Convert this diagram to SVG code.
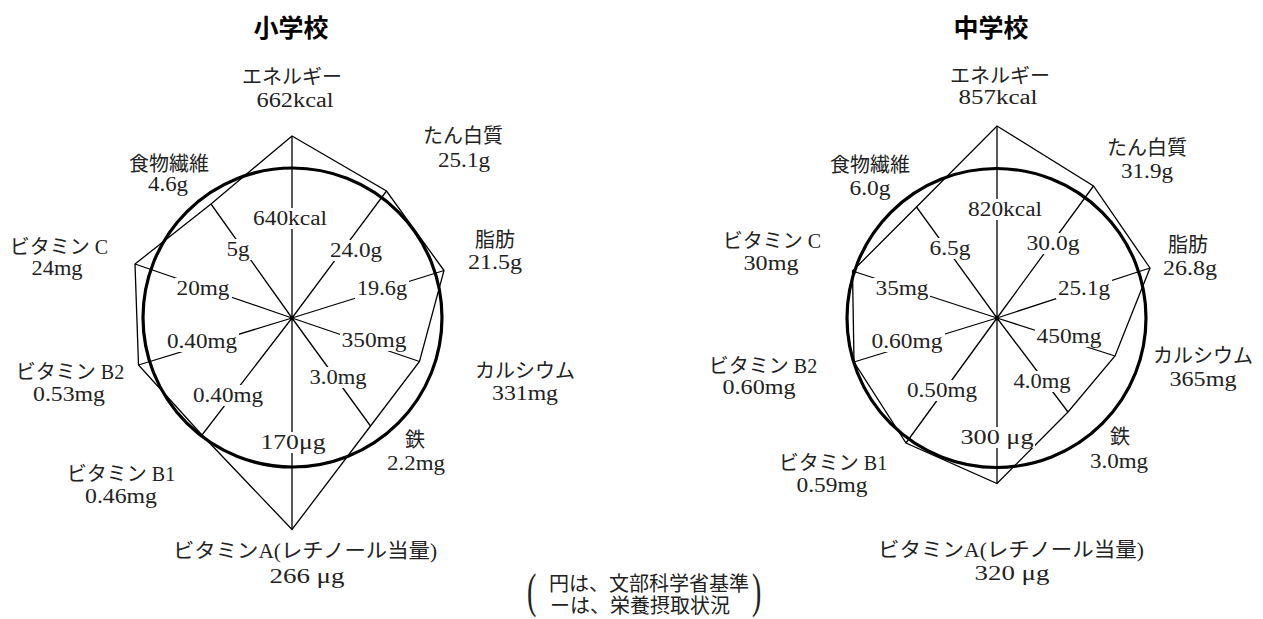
<svg xmlns="http://www.w3.org/2000/svg" width="1263" height="619" viewBox="0 0 1263 619">
<style>
  .bg{fill:#fff}
  .ln{stroke:#000;stroke-width:1.3;fill:none;stroke-linejoin:miter}
  .std{stroke:#000;stroke-width:3.2;fill:none}
  .ko{fill:#fff;stroke:none}
  text{font-family:"Liberation Serif","Noto Sans CJK JP",serif;font-size:20px;fill:#222;text-anchor:middle}
  .ttl{font-family:"Noto Sans CJK JP",sans-serif;font-size:25px;font-weight:bold;fill:#000}
  .par{font-size:28px;text-anchor:start}
  .note{text-anchor:start}
</style>
<rect class="bg" x="0" y="0" width="1263" height="619"/>

<g id="elementary">
  <text id="title-elem" class="ttl" x="291" y="37">小学校</text>
  <g id="elem-connectors">
    <path class="ln" d="M292,318L292,136M292,318L386.5,191M292,318L444,270.5M292,318L419.5,361.5M292,318L370.5,426M292,318L292,529.5M292,318L202,435M292,318L138.5,365M292,318L135,264M292,318L211,204"/>
    <polygon class="ln" points="292,136 386.5,191 444,270.5 419.5,361.5 370.5,426 292,529.5 202,435 138.5,365 135,264 211,204"/>
    <circle class="std" cx="292.5" cy="317.5" r="149.5"/>
  </g>
  <g id="elem-standard-labels">
    <rect class="ko" x="251" y="208" width="78" height="21"/><text x="290" y="225" textLength="74" lengthAdjust="spacingAndGlyphs">640kcal</text>
    <rect class="ko" x="225" y="239" width="27" height="21"/><text x="238" y="256" textLength="23" lengthAdjust="spacingAndGlyphs">5g</text>
    <rect class="ko" x="328" y="240" width="56" height="21"/><text x="356" y="257" textLength="52" lengthAdjust="spacingAndGlyphs">24.0g</text>
    <rect class="ko" x="175" y="278" width="57" height="21"/><text x="203" y="295" textLength="53" lengthAdjust="spacingAndGlyphs">20mg</text>
    <rect class="ko" x="355" y="278" width="54" height="21"/><text x="382" y="295" textLength="50" lengthAdjust="spacingAndGlyphs">19.6g</text>
    <rect class="ko" x="165" y="331" width="74" height="21"/><text x="202" y="348" textLength="70" lengthAdjust="spacingAndGlyphs">0.40mg</text>
    <rect class="ko" x="340" y="330" width="69" height="21"/><text x="374" y="347" textLength="65" lengthAdjust="spacingAndGlyphs">350mg</text>
    <rect class="ko" x="191" y="385" width="74" height="21"/><text x="228" y="402" textLength="70" lengthAdjust="spacingAndGlyphs">0.40mg</text>
    <rect class="ko" x="308" y="367" width="61" height="21"/><text x="338" y="384" textLength="57" lengthAdjust="spacingAndGlyphs">3.0mg</text>
    <rect class="ko" x="258" y="432" width="69" height="21"/><text x="293" y="449" textLength="65" lengthAdjust="spacingAndGlyphs">170μg</text>
  </g>
  <g id="elem-energy"><text x="292" y="84">エネルギー</text><text x="295" y="107" textLength="77" lengthAdjust="spacingAndGlyphs">662kcal</text></g>
  <g id="elem-protein"><text x="463" y="143">たん白質</text><text x="464" y="167" textLength="52" lengthAdjust="spacingAndGlyphs">25.1g</text></g>
  <g id="elem-fat"><text x="495" y="247">脂肪</text><text x="495" y="269" textLength="54" lengthAdjust="spacingAndGlyphs">21.5g</text></g>
  <g id="elem-calcium"><text x="525" y="378">カルシウム</text><text x="525" y="400" textLength="66" lengthAdjust="spacingAndGlyphs">331mg</text></g>
  <g id="elem-iron"><text x="415" y="447">鉄</text><text x="416" y="470" textLength="58" lengthAdjust="spacingAndGlyphs">2.2mg</text></g>
  <g id="elem-vitA"><text x="305" y="558" textLength="264" lengthAdjust="spacingAndGlyphs">ビタミンA(レチノール当量)</text><text x="307" y="583" textLength="75" lengthAdjust="spacingAndGlyphs">266 μg</text></g>
  <g id="elem-vitB1"><text x="121" y="481">ビタミン B1</text><text x="121" y="503" textLength="72" lengthAdjust="spacingAndGlyphs">0.46mg</text></g>
  <g id="elem-vitB2"><text x="70" y="379">ビタミン B2</text><text x="69" y="401" textLength="72" lengthAdjust="spacingAndGlyphs">0.53mg</text></g>
  <g id="elem-vitC"><text x="59" y="254">ビタミン C</text><text x="57" y="275" textLength="51" lengthAdjust="spacingAndGlyphs">24mg</text></g>
  <g id="elem-fiber"><text x="169" y="171">食物繊維</text><text x="168" y="191" textLength="40" lengthAdjust="spacingAndGlyphs">4.6g</text></g>
</g>

<g id="junior">
  <text id="title-jun" class="ttl" x="991" y="37">中学校</text>
  <g id="jun-connectors">
    <path class="ln" d="M997,318L997,126M997,318L1093.5,186M997,318L1150,268M997,318L1115,356M997,318L1068,412M997,318L997,483.5M997,318L906,443M997,318L854,362M997,318L852.5,271M997,318L916.5,207"/>
    <polygon class="ln" points="997,126 1093.5,186 1150,268 1115,356 1068,412 997,483.5 906,443 854,362 852.5,271 916.5,207"/>
    <circle class="std" cx="996.5" cy="318" r="149.5"/>
  </g>
  <g id="jun-standard-labels">
    <rect class="ko" x="966" y="199" width="78" height="21"/><text x="1005" y="216" textLength="74" lengthAdjust="spacingAndGlyphs">820kcal</text>
    <rect class="ko" x="927" y="238" width="45" height="21"/><text x="950" y="255" textLength="41" lengthAdjust="spacingAndGlyphs">6.5g</text>
    <rect class="ko" x="1025" y="233" width="57" height="21"/><text x="1053" y="250" textLength="53" lengthAdjust="spacingAndGlyphs">30.0g</text>
    <rect class="ko" x="873" y="278" width="57" height="21"/><text x="902" y="295" textLength="53" lengthAdjust="spacingAndGlyphs">35mg</text>
    <rect class="ko" x="1056" y="278" width="56" height="21"/><text x="1084" y="295" textLength="52" lengthAdjust="spacingAndGlyphs">25.1g</text>
    <rect class="ko" x="870" y="331" width="75" height="21"/><text x="907" y="348" textLength="71" lengthAdjust="spacingAndGlyphs">0.60mg</text>
    <rect class="ko" x="1035" y="326" width="69" height="21"/><text x="1069" y="343" textLength="65" lengthAdjust="spacingAndGlyphs">450mg</text>
    <rect class="ko" x="1011" y="371" width="61" height="21"/><text x="1042" y="388" textLength="57" lengthAdjust="spacingAndGlyphs">4.0mg</text>
    <rect class="ko" x="905" y="380" width="74" height="21"/><text x="942" y="397" textLength="70" lengthAdjust="spacingAndGlyphs">0.50mg</text>
    <rect class="ko" x="958" y="427" width="77" height="21"/><text x="997" y="444" textLength="73" lengthAdjust="spacingAndGlyphs">300 μg</text>
  </g>
  <g id="jun-energy"><text x="1000" y="83">エネルギー</text><text x="998" y="104" textLength="79" lengthAdjust="spacingAndGlyphs">857kcal</text></g>
  <g id="jun-protein"><text x="1147" y="155">たん白質</text><text x="1147" y="178" textLength="52" lengthAdjust="spacingAndGlyphs">31.9g</text></g>
  <g id="jun-fat"><text x="1188" y="252">脂肪</text><text x="1190" y="275" textLength="54" lengthAdjust="spacingAndGlyphs">26.8g</text></g>
  <g id="jun-calcium"><text x="1203" y="363">カルシウム</text><text x="1203" y="386" textLength="67" lengthAdjust="spacingAndGlyphs">365mg</text></g>
  <g id="jun-iron"><text x="1120" y="444">鉄</text><text x="1119" y="468" textLength="58" lengthAdjust="spacingAndGlyphs">3.0mg</text></g>
  <g id="jun-vitA"><text x="1011" y="557" textLength="266" lengthAdjust="spacingAndGlyphs">ビタミンA(レチノール当量)</text><text x="1012" y="580" textLength="75" lengthAdjust="spacingAndGlyphs">320 μg</text></g>
  <g id="jun-vitB1"><text x="833" y="470">ビタミン B1</text><text x="832" y="492" textLength="71" lengthAdjust="spacingAndGlyphs">0.59mg</text></g>
  <g id="jun-vitB2"><text x="763" y="373">ビタミン B2</text><text x="759" y="394" textLength="73" lengthAdjust="spacingAndGlyphs">0.60mg</text></g>
  <g id="jun-vitC"><text x="772" y="248">ビタミン C</text><text x="771" y="270" textLength="55" lengthAdjust="spacingAndGlyphs">30mg</text></g>
  <g id="jun-fiber"><text x="870" y="172">食物繊維</text><text x="870" y="195" textLength="41" lengthAdjust="spacingAndGlyphs">6.0g</text></g>
</g>

<g id="legend">
  <text class="par" transform="translate(527,607) scale(1,1.7)" x="0" y="0">(</text>
  <text class="note" x="549" y="591">円は、文部科学省基準</text>
  <text class="note" x="550" y="613">ーは、栄養摂取状況</text>
  <text class="par" transform="translate(752,607) scale(1,1.7)" x="0" y="0">)</text>
</g>
</svg>
